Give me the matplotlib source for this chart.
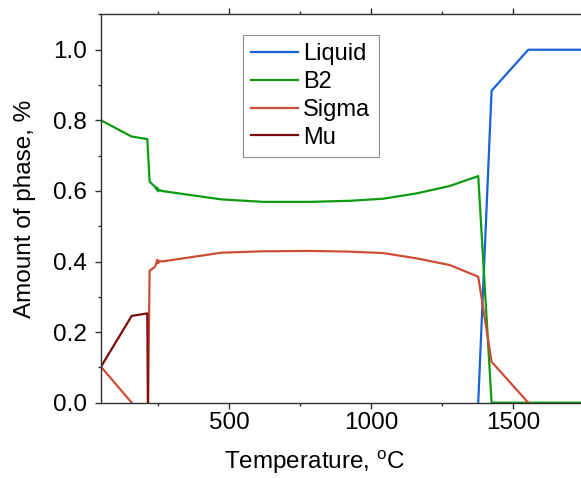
import numpy as np
import matplotlib
matplotlib.use("Agg")
import matplotlib.pyplot as plt
from matplotlib.ticker import MultipleLocator

plt.rcParams['font.family'] = ['Liberation Sans', 'DejaVu Sans']
plt.rcParams['mathtext.fontset'] = 'custom'
plt.rcParams['mathtext.rm'] = 'Liberation Sans'

# Liquid phase
t_liquid = [1377, 1424, 1553, 1800]
v_liquid = [0.0, 0.884, 1.0, 1.0]

# B2 phase
t_b2 = [50, 158, 213, 221, 240, 245, 248, 251, 255, 263, 350, 474, 621,
        785, 926, 1043, 1160, 1277, 1377, 1424, 1800]
v_b2 = [0.80, 0.754, 0.747, 0.626, 0.612, 0.604, 0.610, 0.599, 0.603,
        0.600, 0.590, 0.576, 0.569, 0.569, 0.572, 0.578, 0.593, 0.614,
        0.642, 0.0, 0.0]

# Sigma phase (nan = not shown between 158 and 216)
t_sigma = [50, 158, 186, 216, 221, 240, 245, 248, 251, 255, 263, 474,
           621, 785, 926, 1043, 1160, 1277, 1377, 1424, 1553]
v_sigma = [0.102, 0.0, np.nan, 0.0, 0.374, 0.385, 0.396, 0.405, 0.395,
           0.402, 0.400, 0.425, 0.429, 0.430, 0.428, 0.424, 0.409, 0.390,
           0.357, 0.116, 0.0]

# Mu phase
t_mu = [50, 158, 213, 215]
v_mu = [0.102, 0.246, 0.253, 0.0]

fs = 17.5

fig = plt.figure(figsize=(5.81, 4.78), dpi=100)
ax = fig.add_axes([0.1738, 0.1575, 0.8563, 0.8123])

ax.plot(t_liquid, v_liquid, color='#1a62d4', lw=1.6, label='Liquid')
ax.plot(t_b2, v_b2, color='#0e9a12', lw=1.6, label='B2')
ax.plot(t_sigma, v_sigma, color='#cc4c38', lw=1.6, label='Sigma')
ax.plot(t_mu, v_mu, color='#7a0c0c', lw=1.6, label='Mu')

ax.set_xlim(50, 1800)
ax.set_ylim(0, 1.1)
ax.xaxis.set_major_locator(MultipleLocator(500))
ax.xaxis.set_minor_locator(MultipleLocator(250))
ax.yaxis.set_major_locator(MultipleLocator(0.2))
ax.yaxis.set_minor_locator(MultipleLocator(0.1))
ax.yaxis.set_major_formatter(lambda v, p: f'{v:.1f}')

ax.spines['right'].set_visible(False)
for s in ['left', 'bottom', 'top']:
    ax.spines[s].set_color('#303030')
    ax.spines[s].set_linewidth(1.0)

ax.tick_params(which='both', direction='out', top=True, labeltop=False,
               labelsize=fs, color='#303030')
ax.tick_params(which='major', length=4.5, width=1.0)
ax.tick_params(which='minor', length=2.5, width=1.0)
ax.tick_params(axis='x', pad=2)
ax.tick_params(axis='y', pad=5.5)

ax.set_xlabel(r'Temperature, $^{\mathrm{o}}$C', fontsize=fs)
ax.set_ylabel('Amount of phase, %', fontsize=fs)
ax.xaxis.set_label_coords(0.430, -0.118)
ax.yaxis.set_label_coords(-0.131, 0.5)

leg = ax.legend(loc='upper left', bbox_to_anchor=(0.2854, 0.9477),
                borderaxespad=0, fontsize=17, handlelength=2.0,
                handletextpad=0.2, labelspacing=0.25, borderpad=0.35,
                fancybox=False, framealpha=1)
leg.get_frame().set_edgecolor('#909090')
leg.get_frame().set_linewidth(0.8)

fig.savefig('out.png', dpi=100)
